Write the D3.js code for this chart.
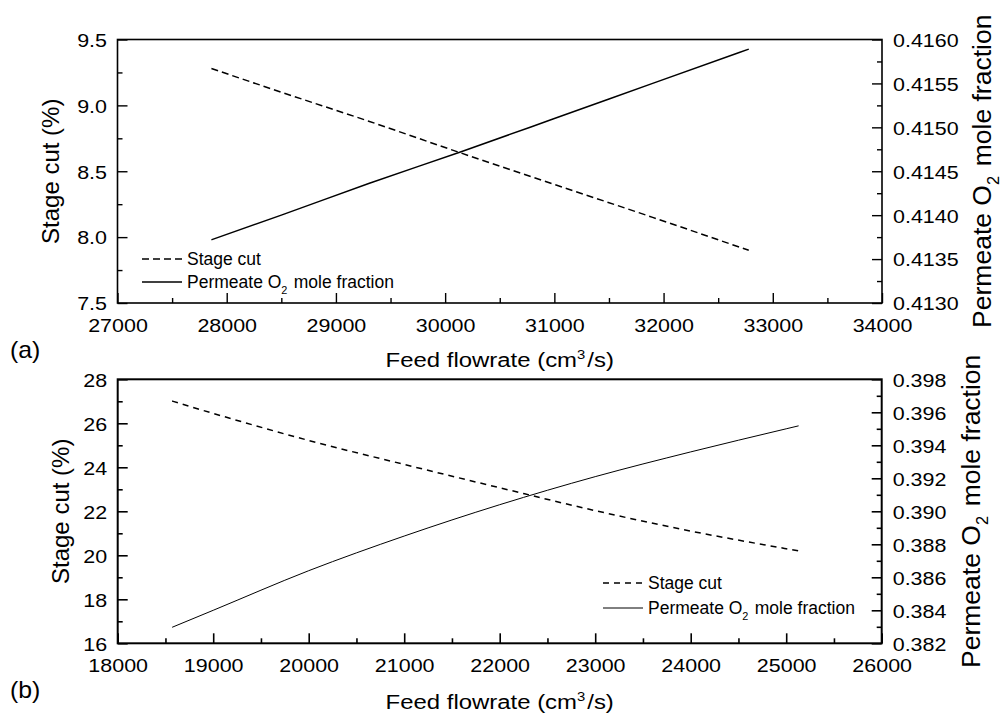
<!DOCTYPE html>
<html><head><meta charset="utf-8">
<script src="https://cdn.jsdelivr.net/npm/d3@7"></script>
<style>
html,body{margin:0;padding:0;background:#fff;}
svg text{font-family:"Liberation Sans",Arial,sans-serif;fill:#000;}
</style></head><body>
<svg id="chart" width="1001" height="717"></svg>
<script>
// ---- Panel (a) ----
const feedA      = [27860, 28500, 29300, 30140, 31000, 31900, 32780];
const stageCutA  = [9.28, 9.10, 8.88, 8.64, 8.40, 8.15, 7.90];
const o2FracA    = [0.41372, 0.41400, 0.41436, 0.41472, 0.41510, 0.41550, 0.41589];
const xTicksA    = [27000, 28000, 29000, 30000, 31000, 32000, 33000, 34000];
const yLTicksA   = [7.5, 8.0, 8.5, 9.0, 9.5];
const yRTicksA   = [0.4130, 0.4135, 0.4140, 0.4145, 0.4150, 0.4155, 0.4160];

// ---- Panel (b) ----
const feedB      = [18570, 19000, 20000, 21000, 22000, 23000, 24000, 25000, 25130];
const stageCutB  = [27.01, 26.45, 25.22, 24.13, 23.07, 22.03, 21.10, 20.30, 20.20];
const o2FracB    = [0.38297, 0.3840, 0.3864, 0.3885, 0.3904, 0.3921, 0.3936, 0.3950, 0.39518];
const xTicksB    = [18000, 19000, 20000, 21000, 22000, 23000, 24000, 25000, 26000];
const yLTicksB   = [16, 18, 20, 22, 24, 26, 28];
const yRTicksB   = [0.382, 0.384, 0.386, 0.388, 0.390, 0.392, 0.394, 0.396, 0.398];

const legendNames = ["Stage cut", "Permeate O|2| mole fraction"];
const xTitle = "Feed flowrate (cm^3^/s)";
const yLTitle = "Stage cut (%)";
const yRTitle = "Permeate O|2| mole fraction";

const svg = d3.select("#chart");
const TICK_SX = 1.13;   // tick labels are drawn slightly wide
const MAJOR = 10, MINOR = 5;

// text with |sub| and ^sup^ markup
function richText(sel, str, size) {
  const parts = str.split(/(\|[^|]*\||\^[^^]*\^)/).filter(s => s.length);
  parts.forEach(p => {
    if (p[0] === "|") {
      sel.append("tspan").attr("dy", size * 0.32).attr("font-size", size * 0.62).text(p.slice(1, -1));
      sel.append("tspan").attr("dy", -size * 0.32).text("\u200A");
    } else if (p[0] === "^") {
      sel.append("tspan").attr("dy", -size * 0.38).attr("font-size", size * 0.62).text(p.slice(1, -1));
      sel.append("tspan").attr("dy", size * 0.38).text("\u200A");
    } else {
      sel.append("tspan").text(p);
    }
  });
  return sel;
}

function label(parent, x, y, str, o) {
  const t = parent.append("text")
    .attr("transform", `translate(${x},${y}) rotate(${o.rot || 0}) scale(${o.sx || 1},1)`)
    .attr("font-size", o.size)
    .attr("text-anchor", o.anchor || "start");
  return richText(t, str, o.size);
}

function midpoints(ticks) {
  return d3.pairs(ticks).map(([a, b]) => (a + b) / 2);
}

function panel(cfg) {
  const g = svg.append("g");
  const x  = d3.scaleLinear().domain(cfg.xDom).range([cfg.left, cfg.right]);
  const yL = d3.scaleLinear().domain(cfg.yLDom).range([cfg.bottom, cfg.top]);
  const yR = d3.scaleLinear().domain(cfg.yRDom).range([cfg.bottom, cfg.top]);

  const styleLabels = (sel, dx, dy, anchor) => {
    sel.selectAll(".tick text")
      .attr("x", 0).attr("y", 0).attr("dy", null)
      .attr("text-anchor", anchor)
      .attr("font-size", cfg.tickSize)
      .attr("font-family", null)
      .attr("fill", "#000")
      .attr("transform", `translate(${dx},${dy}) scale(${TICK_SX},1)`);
    sel.selectAll(".tick line").attr("stroke", "#000").attr("stroke-width", cfg.tickW);
    sel.select(".domain").remove();
  };

  // bottom axis: major + minor ticks pointing inward
  g.append("g").attr("transform", `translate(0,${cfg.bottom})`)
    .call(d3.axisBottom(x).tickValues(cfg.xTicks).tickSize(-MAJOR).tickFormat(d3.format("d")))
    .call(s => styleLabels(s, 0, 29, "middle"));
  g.append("g").attr("transform", `translate(0,${cfg.bottom})`)
    .call(d3.axisBottom(x).tickValues(midpoints(cfg.xTicks)).tickSize(-MINOR).tickFormat(""))
    .call(s => styleLabels(s, 0, 0, "middle"));

  // left axis
  g.append("g").attr("transform", `translate(${cfg.left},0)`)
    .call(d3.axisLeft(yL).tickValues(cfg.yLTicks).tickSize(-MAJOR).tickFormat(d3.format(cfg.yLFmt)))
    .call(s => styleLabels(s, -10.5, cfg.tickSize * 0.36, "end"));
  g.append("g").attr("transform", `translate(${cfg.left},0)`)
    .call(d3.axisLeft(yL).tickValues(midpoints(cfg.yLTicks)).tickSize(-MINOR).tickFormat(""))
    .call(s => styleLabels(s, 0, 0, "end"));

  // right axis
  g.append("g").attr("transform", `translate(${cfg.right},0)`)
    .call(d3.axisRight(yR).tickValues(cfg.yRTicks).tickSize(-MAJOR).tickFormat(d3.format(cfg.yRFmt)))
    .call(s => styleLabels(s, 11, cfg.tickSize * 0.36, "start"));
  g.append("g").attr("transform", `translate(${cfg.right},0)`)
    .call(d3.axisRight(yR).tickValues(midpoints(cfg.yRTicks)).tickSize(-MINOR).tickFormat(""))
    .call(s => styleLabels(s, 0, 0, "start"));

  // frame
  g.append("rect")
    .attr("x", cfg.left).attr("y", cfg.top)
    .attr("width", cfg.right - cfg.left).attr("height", cfg.bottom - cfg.top)
    .attr("fill", "none").attr("stroke", "#000").attr("stroke-width", cfg.frameW);

  // curves
  const lineL = d3.line().x(d => x(d[0])).y(d => yL(d[1])).curve(d3.curveMonotoneX);
  const lineR = d3.line().x(d => x(d[0])).y(d => yR(d[1])).curve(d3.curveMonotoneX);
  g.append("path").datum(d3.zip(cfg.feed, cfg.stage))
    .attr("d", lineL).attr("fill", "none").attr("stroke", "#000")
    .attr("stroke-width", cfg.dashW).attr("stroke-dasharray", cfg.dash);
  g.append("path").datum(d3.zip(cfg.feed, cfg.o2))
    .attr("d", lineR).attr("fill", "none").attr("stroke", "#000")
    .attr("stroke-width", cfg.solidW);

  // legend
  const lg = g.append("g");
  legendNames.forEach((name, i) => {
    const ly = cfg.legY + i * cfg.legGap;
    lg.append("line")
      .attr("x1", cfg.legX).attr("x2", cfg.legX + 40).attr("y1", ly).attr("y2", ly)
      .attr("stroke", "#000").attr("stroke-width", i === 0 ? cfg.dashW : cfg.solidW)
      .attr("stroke-dasharray", i === 0 ? cfg.dash : null);
    label(lg, cfg.legX + 45, ly + 6, name, { size: 17.5 });
  });

  // axis titles
  label(g, (cfg.left + cfg.right) / 2, cfg.bottom + cfg.xTitleOff, xTitle, { size: 21, anchor: "middle", sx: 1.14 });
  label(g, cfg.yLTitleX, (cfg.top + cfg.bottom) / 2, yLTitle, { size: 24, anchor: "middle", rot: -90 });
  label(g, cfg.yRTitleX, (cfg.top + cfg.bottom) / 2, yRTitle, { size: 26.5, anchor: "middle", rot: -90 });
  label(g, 10, cfg.bottom + 55, cfg.tag, { size: 23, sx: 1.08 });
}

panel({
  tag: "(a)",
  xDom: [27000, 34000], yLDom: [7.5, 9.5], yRDom: [0.4130, 0.4160],
  left: 117.5, right: 882, top: 39.5, bottom: 303,
  xTicks: xTicksA, yLTicks: yLTicksA, yRTicks: yRTicksA,
  yLFmt: ".1f", yRFmt: ".4f", tickSize: 19,
  feed: feedA, stage: stageCutA, o2: o2FracA,
  frameW: 1.6, tickW: 1.4, dashW: 1.5, solidW: 1.5, dash: "7,4",
  legX: 142, legY: 259, legGap: 23, xTitleOff: 64,
  yLTitleX: 58.5, yRTitleX: 991
});

panel({
  tag: "(b)",
  xDom: [18000, 26000], yLDom: [16, 28], yRDom: [0.382, 0.398],
  left: 117.7, right: 881.7, top: 379.3, bottom: 643.3,
  xTicks: xTicksB, yLTicks: yLTicksB, yRTicks: yRTicksB,
  yLFmt: "d", yRFmt: ".3f", tickSize: 19,
  feed: feedB, stage: stageCutB, o2: o2FracB,
  frameW: 2, tickW: 1.6, dashW: 1.5, solidW: 1, dash: "6,5",
  legX: 603, legY: 583, legGap: 25, xTitleOff: 66,
  yLTitleX: 69, yRTitleX: 980
});
</script>
</body></html>
